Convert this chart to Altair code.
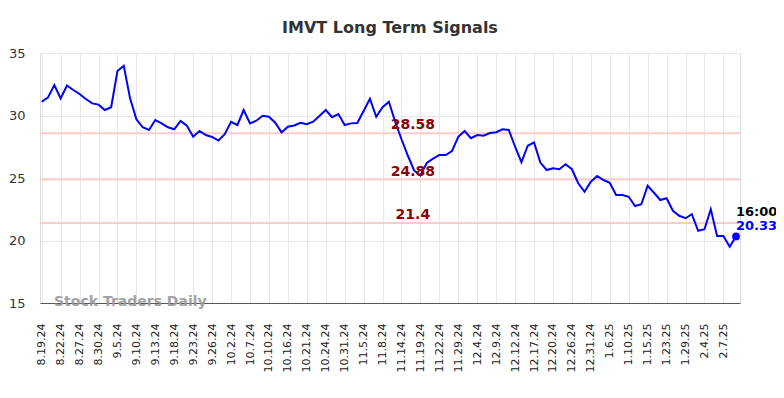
import altair as alt
import pandas as pd

tick_labels = ["8.19.24", "8.22.24", "8.27.24", "8.30.24", "9.5.24", "9.10.24", "9.13.24",
               "9.18.24", "9.23.24", "9.26.24", "10.2.24", "10.7.24", "10.10.24", "10.16.24",
               "10.21.24", "10.24.24", "10.31.24", "11.5.24", "11.8.24", "11.14.24", "11.19.24",
               "11.22.24", "11.29.24", "12.4.24", "12.9.24", "12.12.24", "12.17.24", "12.20.24",
               "12.26.24", "12.31.24", "1.6.25", "1.10.25", "1.15.25", "1.23.25", "1.29.25",
               "2.4.25", "2.7.25"]

prices = [31.1, 31.45, 32.44, 31.37, 32.4, 32.04, 31.72, 31.32, 30.97, 30.87,
          30.44, 30.66, 33.56, 33.98, 31.37, 29.7, 29.06, 28.84, 29.64, 29.37,
          29.06, 28.9, 29.56, 29.18, 28.3, 28.76, 28.44, 28.28, 28.0, 28.5,
          29.5, 29.24, 30.44, 29.37, 29.58, 29.98, 29.9, 29.42, 28.65, 29.1,
          29.2, 29.42, 29.3, 29.5, 29.96, 30.44, 29.86, 30.12, 29.24, 29.37,
          29.4, 30.36, 31.34, 29.9, 30.66, 31.1, 29.5, 28.1, 26.8, 25.6,
          25.2, 26.2, 26.55, 26.84, 26.84, 27.16, 28.3, 28.76, 28.18, 28.44,
          28.38, 28.6, 28.66, 28.9, 28.84, 27.5, 26.26, 27.58, 27.85, 26.23,
          25.64, 25.78, 25.7, 26.1, 25.7, 24.58, 23.9, 24.7, 25.16, 24.84,
          24.62, 23.64, 23.64, 23.5, 22.76, 22.9, 24.38, 23.82, 23.24, 23.38,
          22.38, 21.98, 21.78, 22.1, 20.78, 20.9, 22.5, 20.36, 20.36, 19.5,
          20.33]

levels = [28.58, 24.88, 21.4]
level_labels = ["28.58", "24.88", "21.4"]
last_time = "16:00"
last_price_label = "20.33"
watermark = "Stock Traders Daily"

n = len(prices)
df = pd.DataFrame({"i": list(range(n)), "price": prices})
tick_idx = [3 * k for k in range(len(tick_labels))]
label_expr = "[" + ",".join("'%s'" % t for t in tick_labels) + "][round(datum.value / 3)]"

lev_df = pd.DataFrame({"level": levels, "txt": level_labels, "i": [58.8] * len(levels)})
last_df = pd.DataFrame({"i": [n - 1], "price": [prices[-1]],
                        "t": [last_time], "p": [last_price_label]})
wm_df = pd.DataFrame({"t": [watermark]})

xs = alt.Scale(domain=[-0.27, n - 1 + 0.63], nice=False, zero=False)
ys = alt.Scale(domain=[15, 35], nice=False, zero=False)

x_axis = alt.Axis(values=tick_idx, tickCount=500, labelExpr=label_expr, labelAngle=-90,
                  labelAlign="right", labelBaseline="middle", labelFontSize=11,
                  labelColor="#222", labelPadding=20, ticks=False, grid=True,
                  gridColor="#e8e8e8", domainColor="#555", domainWidth=1, title=None,
                  labelOverlap=False, labelBound=False, labelFlush=False)
y_axis = alt.Axis(values=[15, 20, 25, 30, 35], grid=True, gridColor="#e8e8e8", domain=False,
                  ticks=False, labelFontSize=13, labelColor="#333", labelPadding=15, title=None)

base_x = alt.X("i:Q", scale=xs, axis=x_axis)
base_y = alt.Y("price:Q", scale=ys, axis=y_axis)

rules = alt.Chart(lev_df).mark_rule(color="#ffcccc", strokeWidth=2).encode(
    y=alt.Y("level:Q", scale=ys)
)
line = alt.Chart(df).mark_line(color="#0000ff", strokeWidth=2).encode(x=base_x, y=base_y)
lev_text = alt.Chart(lev_df).mark_text(color="#8b0000", fontWeight="bold", fontSize=14,
                                       baseline="middle", dy=-8).encode(
    x=alt.X("i:Q", scale=xs), y=alt.Y("level:Q", scale=ys), text="txt:N"
)
dot = alt.Chart(last_df).mark_circle(color="#0000ff", size=60, opacity=1).encode(
    x=alt.X("i:Q", scale=xs), y=alt.Y("price:Q", scale=ys)
)
t1 = alt.Chart(last_df).mark_text(color="#000", fontWeight="bold", fontSize=13, align="left",
                                  baseline="middle", dx=0, dy=-24).encode(
    x=alt.X("i:Q", scale=xs), y=alt.Y("price:Q", scale=ys), text="t:N"
)
t2 = alt.Chart(last_df).mark_text(color="#0000ff", fontWeight="bold", fontSize=13, align="left",
                                  baseline="middle", dx=0, dy=-10).encode(
    x=alt.X("i:Q", scale=xs), y=alt.Y("price:Q", scale=ys), text="p:N"
)
wm = alt.Chart(wm_df).mark_text(color="#999", fontWeight="bold", fontSize=14, align="left",
                                baseline="middle", opacity=0.9).encode(
    x=alt.value(14), y=alt.value(249), text="t:N"
)

chart = alt.layer(rules, line, lev_text, dot, t1, t2, wm).properties(
    width=700, height=250,
    title=alt.TitleParams("IMVT Long Term Signals", fontSize=16, fontWeight="bold",
                          color="#333", anchor="middle", offset=11),
    autosize=alt.AutoSizeParams(type="none"),
    padding={"left": 32, "top": 45, "right": 36, "bottom": 87},
).configure_view(stroke=None).configure(font="DejaVu Sans")

chart.save("out.html", embed_options={"renderer": "svg", "actions": False})
